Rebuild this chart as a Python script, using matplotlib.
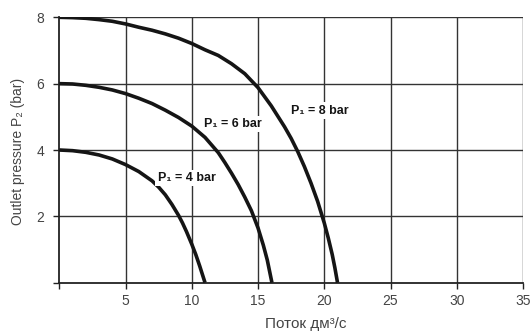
import matplotlib
matplotlib.use("Agg")
import matplotlib.pyplot as plt

# Data (flow in dm3/s, outlet pressure in bar)
q_p8 = [0, 1, 2, 3, 4, 5, 6, 7, 8, 9, 10, 11, 12, 13, 14, 15, 16, 17, 17.5,
        18, 18.5, 19, 19.5, 20, 20.3, 20.6, 20.8, 21]
p_p8 = [8.0, 7.99, 7.97, 7.93, 7.88, 7.80, 7.70, 7.61, 7.50, 7.37, 7.21, 7.02,
        6.85, 6.60, 6.30, 5.88, 5.33, 4.70, 4.35, 3.95, 3.50, 3.00, 2.45, 1.80,
        1.35, 0.85, 0.45, 0.0]

q_p6 = [0, 1, 2, 3, 4, 5, 6, 7, 8, 9, 10, 11, 12, 12.5, 13, 13.5, 14, 14.5,
        15, 15.4, 15.7, 16.05]
p_p6 = [6.0, 5.99, 5.95, 5.89, 5.81, 5.70, 5.56, 5.40, 5.20, 4.98, 4.72, 4.38,
        3.92, 3.62, 3.30, 2.96, 2.58, 2.17, 1.65, 1.13, 0.68, 0.0]

q_p4 = [0, 1, 2, 3, 4, 5, 6, 7, 7.5, 8, 8.5, 9, 9.3, 9.6, 10, 10.3, 10.6, 11]
p_p4 = [4.0, 3.98, 3.93, 3.85, 3.73, 3.56, 3.35, 3.07, 2.88, 2.65, 2.36, 2.03,
        1.80, 1.54, 1.16, 0.85, 0.50, 0.0]

labels = ["P\u2081 = 8 bar", "P\u2081 = 6 bar", "P\u2081 = 4 bar"]
label_pos = [(19.7, 5.19), (13.1, 4.79), (9.6, 3.15)]

x_ticks = [0, 5, 10, 15, 20, 25, 30, 35]
x_ticklabels = ["", "5", "10", "15", "20", "25", "30", "35"]
y_ticks = [0, 2, 4, 6, 8]
y_ticklabels = ["", "2", "4", "6", "8"]

xlabel = "Поток дм³/с"
ylabel = "Outlet pressure P\u2082 (bar)"

plt.rcParams['font.family'] = ['Liberation Sans', 'DejaVu Sans']

W, H = 532, 333
fig = plt.figure(figsize=(W / 100, H / 100), dpi=100)
ax_l, ax_r, ax_t, ax_b = 59.3, 523.0, 17.3, 282.7
ax = fig.add_axes([ax_l / W, (H - ax_b) / H, (ax_r - ax_l) / W, (ax_b - ax_t) / H])

gridc = "#333333"
for x in x_ticks[1:]:
    ax.axvline(x, color=gridc, lw=1.0, zorder=1)
for y in y_ticks[1:]:
    ax.axhline(y, color=gridc, lw=1.0, zorder=1)

for q, p in [(q_p8, p_p8), (q_p6, p_p6), (q_p4, p_p4)]:
    ax.plot(q, p, color="#151515", lw=2.6, solid_capstyle="butt",
            solid_joinstyle="round", zorder=3)

for t, (x, y) in zip(labels, label_pos):
    ax.text(x, y, t, ha="center", va="center", fontsize=9, fontweight="bold",
            color="#151515", zorder=4,
            bbox=dict(facecolor="white", edgecolor="none", pad=1.5))

ax.set_xlim(0, 35)
ax.set_ylim(0, 8)
ax.set_xticks(x_ticks)
ax.set_xticklabels(x_ticklabels)
ax.set_yticks(y_ticks)
ax.set_yticklabels(y_ticklabels)
ax.tick_params(direction="out", length=4.5, width=1, color="#222222",
               labelcolor="#444444", labelsize=10)
ax.tick_params(axis="x", pad=3.5)
ax.tick_params(axis="y", pad=6.5)

for s in ["top", "right"]:
    ax.spines[s].set_visible(False)
for s in ["left", "bottom"]:
    ax.spines[s].set_color("#222222")
    ax.spines[s].set_linewidth(1.3)

fig.text(306 / W, (H - 328.3) / H, xlabel, ha="center", va="baseline",
         fontsize=11, color="#444444")
fig.text(18.5 / W, (H - 151.5) / H, ylabel, ha="center", va="center",
         rotation=90, fontsize=10, color="#444444")

fig.savefig("out.png", dpi=100, facecolor="white")
